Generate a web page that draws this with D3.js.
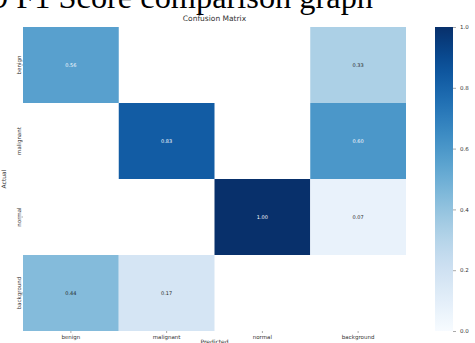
<!DOCTYPE html>
<html>
<head>
<meta charset="utf-8">
<script src="https://cdn.jsdelivr.net/npm/d3@7"></script>
<style>
  html, body { margin: 0; padding: 0; background: #fff; }
  svg { display: block; }
</style>
</head>
<body>
<svg id="chart" width="475" height="343"></svg>
<script>
// Class labels (actual on rows, predicted on columns)
const classes = ["benign", "malignant", "normal", "background"];

// Column-normalised confusion matrix rows; null = empty cell
const rowBenign     = [0.56, null, null, 0.33];
const rowMalignant  = [null, 0.83, null, 0.60];
const rowNormal     = [null, null, 1.00, 0.07];
const rowBackground = [0.44, 0.17, null, null];
const matrixRows = [rowBenign, rowMalignant, rowNormal, rowBackground];

// Colorbar ticks
const colorbarTicks = [0.0, 0.2, 0.4, 0.6, 0.8, 1.0];

const svg = d3.select("#chart");
const font = "DejaVu Sans, sans-serif";

// Page heading above the figure
svg.append("text")
  .attr("x", -8).attr("y", 8)
  .attr("font-family", "Liberation Serif, Times New Roman, serif")
  .attr("font-size", 32)
  .attr("textLength", 381)
  .attr("lengthAdjust", "spacingAndGlyphs")
  .attr("fill", "#000")
  .text("9 F1 Score comparison graph");

const plot = { left: 23, top: 27, width: 383, height: 304 };

const x = d3.scaleBand().domain(classes).range([plot.left, plot.left + plot.width]);
const y = d3.scaleBand().domain(classes).range([plot.top, plot.top + plot.height]);
const color = d3.scaleSequential(d3.interpolateBlues).domain([0, 1]);

const cells = [];
matrixRows.forEach((row, i) => row.forEach((v, j) => {
  if (v !== null) cells.push({ actual: classes[i], predicted: classes[j], value: v });
}));

svg.append("g").selectAll("rect").data(cells).join("rect")
  .attr("x", d => x(d.predicted))
  .attr("y", d => y(d.actual))
  .attr("width", x.bandwidth())
  .attr("height", y.bandwidth())
  .attr("fill", d => color(d.value));

svg.append("g").selectAll("text").data(cells).join("text")
  .attr("x", d => x(d.predicted) + x.bandwidth() / 2)
  .attr("y", d => y(d.actual) + y.bandwidth() / 2)
  .attr("text-anchor", "middle")
  .attr("dominant-baseline", "central")
  .attr("font-family", font)
  .attr("font-size", 5)
  .attr("fill", d => d.value > 0.5 ? "#f7fbff" : "#262626")
  .text(d => d3.format(".2f")(d.value));

// Axes
const xAxis = svg.append("g")
  .attr("transform", `translate(0,${plot.top + plot.height})`)
  .call(d3.axisBottom(x).tickSize(2).tickPadding(2));
xAxis.select(".domain").remove();
xAxis.selectAll("text").attr("font-family", font).attr("font-size", 5.5).attr("fill", "#333");
xAxis.selectAll("line").attr("stroke", "#555").attr("stroke-width", 0.5);

const yAxis = svg.append("g")
  .attr("transform", `translate(${plot.left},0)`)
  .call(d3.axisLeft(y).tickSize(1.5).tickPadding(2));
yAxis.select(".domain").remove();
yAxis.selectAll("text")
  .attr("font-family", font).attr("font-size", 5.5).attr("fill", "#333")
  .attr("text-anchor", "middle")
  .attr("transform", "rotate(-90)")
  .attr("x", 0).attr("y", -2.5).attr("dy", 0);
yAxis.selectAll("line").attr("stroke", "#555").attr("stroke-width", 0.5);

// Titles
svg.append("text")
  .attr("x", plot.left + plot.width / 2).attr("y", 21)
  .attr("text-anchor", "middle")
  .attr("font-family", font).attr("font-size", 7.5).attr("fill", "#333")
  .text("Confusion Matrix");

svg.append("text")
  .attr("x", plot.left + plot.width / 2).attr("y", 344)
  .attr("text-anchor", "middle")
  .attr("font-family", font).attr("font-size", 6).attr("fill", "#333")
  .text("Predicted");

svg.append("text")
  .attr("transform", `translate(6,${plot.top + plot.height / 2}) rotate(-90)`)
  .attr("text-anchor", "middle")
  .attr("font-family", font).attr("font-size", 6).attr("fill", "#333")
  .text("Actual");

// Colorbar
const cb = { left: 435, width: 18 };
const cbScale = d3.scaleLinear().domain([0, 1]).range([plot.top + plot.height, plot.top]);

const defs = svg.append("defs");
const grad = defs.append("linearGradient")
  .attr("id", "cbGrad").attr("x1", 0).attr("y1", 1).attr("x2", 0).attr("y2", 0);
d3.range(0, 1.0001, 0.05).forEach(t => {
  grad.append("stop").attr("offset", t).attr("stop-color", color(t));
});

svg.append("rect")
  .attr("x", cb.left).attr("y", plot.top)
  .attr("width", cb.width).attr("height", plot.height)
  .attr("fill", "url(#cbGrad)");

const cbAxis = svg.append("g")
  .attr("transform", `translate(${cb.left + cb.width},0)`)
  .call(d3.axisRight(cbScale).tickValues(colorbarTicks).tickFormat(d3.format(".1f")).tickSize(3).tickPadding(4));
cbAxis.select(".domain").remove();
cbAxis.selectAll("text").attr("font-family", font).attr("font-size", 5.5).attr("fill", "#333");
cbAxis.selectAll("line").attr("stroke", "#555").attr("stroke-width", 0.5);
</script>
</body>
</html>
